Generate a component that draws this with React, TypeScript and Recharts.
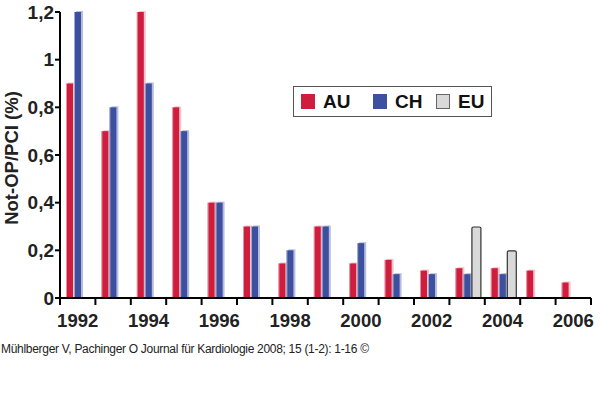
import { BarChart, Bar, XAxis, YAxis } from "recharts";

const years = [1992, 1993, 1994, 1995, 1996, 1997, 1998, 1999, 2000, 2001, 2002, 2003, 2004, 2005, 2006];
const au = [0.9, 0.7, 1.2, 0.8, 0.4, 0.3, 0.145, 0.3, 0.145, 0.16, 0.115, 0.125, 0.125, 0.115, 0.065];
const ch = [1.2, 0.8, 0.9, 0.7, 0.4, 0.3, 0.2, 0.3, 0.23, 0.1, 0.1, 0.1, 0.1, null, null];
const eu = [null, null, null, null, null, null, null, null, null, null, null, 0.3, 0.2, null, null];
const yTicks = [0, 0.2, 0.4, 0.6, 0.8, 1, 1.2];

const legendItems = [
  { name: "AU", color: "#cf1d3d" },
  { name: "CH", color: "#3d4f9f" },
  { name: "EU", color: "#d9d9d9" },
];

const data = years.map((y, i) => ({ year: y, AU: au[i], CH: ch[i], EU: eu[i] }));

const FONT = "'Liberation Sans', Arial, sans-serif";

// bar with a pale shadow on the right, like the old 3d-ish export
const ShadedBar = (props: any) => {
  const { x, y, width, height, fill, shade } = props;
  if (!height || height <= 0) return null;
  return (
    <g>
      <rect x={x + 2} y={y - 1} width={width} height={height + 1} fill={shade} />
      <rect x={x} y={y} width={width} height={height} fill={fill} />
      <line x1={x + 0.5} y1={y} x2={x + 0.5} y2={y + height} stroke="#ffffff" strokeOpacity={0.5} strokeWidth={1} />
    </g>
  );
};

const GreyBar = (props: any) => {
  const { x, y, width, height } = props;
  if (!height || height <= 0) return null;
  return (
    <rect x={x + 0.5} y={y + 0.5} width={width + 2} height={height} rx={1.5} fill="#d9d9d9" stroke="#333" strokeWidth={1.2} />
  );
};

const YearTick = (props: any) => {
  const { x, y, payload, index } = props;
  const half = payload.offset || 17.7;
  const yr = payload.value as number;
  return (
    <g>
      <line x1={x - half} y1={y - 2} x2={x - half} y2={y + 5} stroke="#000" strokeWidth={2} />
      {index === years.length - 1 && (
        <line x1={x + half} y1={y - 2} x2={x + half} y2={y + 5} stroke="#000" strokeWidth={2} />
      )}
      {yr % 2 === 0 && (
        <text x={x} y={y + 27} textAnchor="middle" fontFamily={FONT} fontWeight="bold" fontSize={18.5} fill="#222">
          {yr}
        </text>
      )}
    </g>
  );
};

const YLabel = () => (
  <text
    transform="translate(18,158) rotate(-90)"
    textAnchor="middle"
    fontFamily={FONT}
    fontWeight="bold"
    fontSize={18.5}
    fill="#222"
  >
    Not-OP/PCI (%)
  </text>
);

// left edge of each legend swatch, relative to the box
const legendX = [7, 79, 142];

export default function App() {
  return (
    <div style={{ position: "absolute", left: 0, top: 0, width: 600, height: 393, background: "#fff" }}>
      <BarChart
        width={600}
        height={393}
        data={data}
        margin={{ top: 12, right: 9, left: 0, bottom: 65 }}
        barCategoryGap={6}
        barGap={1}
      >
        <XAxis
          dataKey="year"
          interval={0}
          tickLine={false}
          tickSize={0}
          tick={<YearTick />}
          height={30}
          axisLine={{ stroke: "#000", strokeWidth: 2 }}
        />
        <YAxis
          width={60}
          domain={[0, 1.2]}
          ticks={yTicks}
          interval={0}
          tickSize={5}
          tickMargin={1}
          tickFormatter={(v: number) => String(v).replace(".", ",")}
          tick={{ fontFamily: FONT, fontWeight: "bold", fontSize: 19, fill: "#222" }}
          tickLine={{ stroke: "#000", strokeWidth: 2 }}
          axisLine={{ stroke: "#000", strokeWidth: 2 }}
          label={{ content: <YLabel /> }}
        />
        <Bar dataKey="AU" fill="#cf1d3d" isAnimationActive={false} shape={<ShadedBar shade="#f3c4cc" />} />
        <Bar dataKey="CH" fill="#3d4f9f" isAnimationActive={false} shape={<ShadedBar shade="#b7bedc" />} />
        <Bar dataKey="EU" fill="#d9d9d9" isAnimationActive={false} shape={<GreyBar />} />
      </BarChart>

      {/* legend box */}
      <div
        style={{
          position: "absolute",
          left: 293,
          top: 86,
          width: 199,
          height: 31,
          boxSizing: "border-box",
          border: "1px solid #555",
          background: "#fff",
          fontFamily: FONT,
          fontWeight: "bold",
          fontSize: 19,
          color: "#111",
        }}
      >
        {legendItems.map((it, i) => (
          <div
            key={it.name}
            style={{ position: "absolute", left: legendX[i], top: 0, height: 29, display: "flex", alignItems: "center" }}
          >
            <span
              style={{
                display: "inline-block",
                width: 14,
                height: 15,
                background: it.color,
                border: it.name === "EU" ? "1px solid #666" : "none",
                boxSizing: "border-box",
                marginRight: 8,
              }}
            />
            <span>{it.name}</span>
          </div>
        ))}
      </div>

      <div
        style={{
          position: "absolute",
          left: 1,
          top: 342,
          fontFamily: FONT,
          fontSize: 12,
          letterSpacing: -0.3,
          color: "#222",
          whiteSpace: "nowrap",
        }}
      >
        Mühlberger V, Pachinger O Journal für Kardiologie 2008; 15 (1-2): 1-16 ©
      </div>
    </div>
  );
}
